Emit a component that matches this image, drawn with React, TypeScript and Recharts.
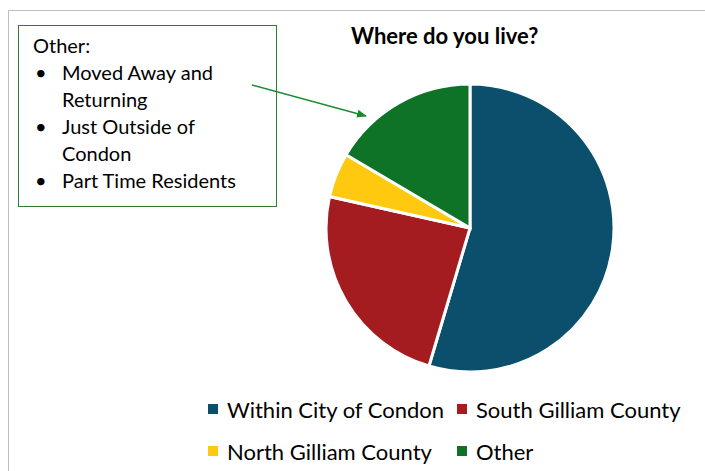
import { PieChart, Pie, Cell, Legend } from 'recharts';

const categories = ['Within City of Condon', 'South Gilliam County', 'North Gilliam County', 'Other'];
const shares = [54.6, 23.9, 5.0, 16.5];
const sliceColors = ['#0B4F6C', '#A51C20', '#FEC90F', '#0E7326'];
const otherNotes = ['Moved Away and Returning', 'Just Outside of Condon', 'Part Time Residents'];

const data = categories.map((name, i) => ({ name, value: shares[i] }));

const font = 'Lato, "Open Sans", sans-serif';

// two-column legend like the Excel original
const renderLegend = () => (
  <div
    style={{
      display: 'grid',
      gridTemplateColumns: '249px 230px',
      rowGap: 14,
      fontFamily: font,
      fontSize: 22,
      color: '#000',
    }}
  >
    {categories.map((name, i) => (
      <div key={name} style={{ display: 'flex', alignItems: 'center', height: 28, whiteSpace: 'nowrap' }}>
        <span
          style={{
            display: 'inline-block',
            width: 10,
            height: 10,
            background: sliceColors[i],
            marginRight: 9,
            flex: 'none',
          }}
        />
        <span>{name}</span>
      </div>
    ))}
  </div>
);

export default function App() {
  return (
    <div style={{ position: 'absolute', left: 0, top: 0, width: 705, height: 471, background: '#fff', overflow: 'hidden' }}>
      <div
        style={{
          position: 'absolute',
          left: 8,
          top: 10,
          width: 720,
          height: 480,
          border: '1px solid #bfbfbf',
          boxSizing: 'border-box',
        }}
      />
      <div
        style={{
          position: 'absolute',
          left: 351,
          top: 22,
          fontFamily: font,
          fontWeight: 700,
          fontSize: 22,
          color: '#000',
          whiteSpace: 'nowrap',
        }}
      >
        Where do you live?
      </div>
      <PieChart
        width={705}
        height={471}
        margin={{ top: 0, right: 0, bottom: 0, left: 0 }}
        style={{ position: 'absolute', left: 0, top: 0 }}
      >
        <Pie
          data={data}
          dataKey="value"
          nameKey="name"
          cx={470}
          cy={228}
          outerRadius={144}
          startAngle={90}
          endAngle={-270}
          stroke="#fff"
          strokeWidth={3}
          isAnimationActive={false}
        >
          {data.map((d, i) => (
            <Cell key={d.name} fill={sliceColors[i]} />
          ))}
        </Pie>
        <Legend
          content={renderLegend}
          wrapperStyle={{ position: 'absolute', left: 208, top: 395, width: 490 }}
        />
      </PieChart>
      <div
        style={{
          position: 'absolute',
          left: 18,
          top: 25,
          width: 259,
          height: 182,
          border: '1.5px solid #2E7D32',
          boxSizing: 'border-box',
          fontFamily: font,
          fontSize: 20,
          lineHeight: '27px',
          color: '#000',
          padding: '6px 0 0 14px',
        }}
      >
        <div>Other:</div>
        {otherNotes.map((t) => (
          <div key={t} style={{ display: 'flex' }}>
            <span style={{ width: 27, flex: 'none', paddingLeft: 2 }}>•</span>
            <span style={{ width: 180 }}>{t}</span>
          </div>
        ))}
      </div>
      <svg width={705} height={471} style={{ position: 'absolute', left: 0, top: 0, pointerEvents: 'none' }}>
        <defs>
          <marker id="arr" markerWidth="10" markerHeight="8" refX="9" refY="4" orient="auto" markerUnits="userSpaceOnUse">
            <path d="M0,0 L10,4 L0,8 Z" fill="#178A2E" />
          </marker>
        </defs>
        <line x1={252} y1={85} x2={366} y2={116} stroke="#178A2E" strokeWidth={1.3} markerEnd="url(#arr)" />
      </svg>
    </div>
  );
}
